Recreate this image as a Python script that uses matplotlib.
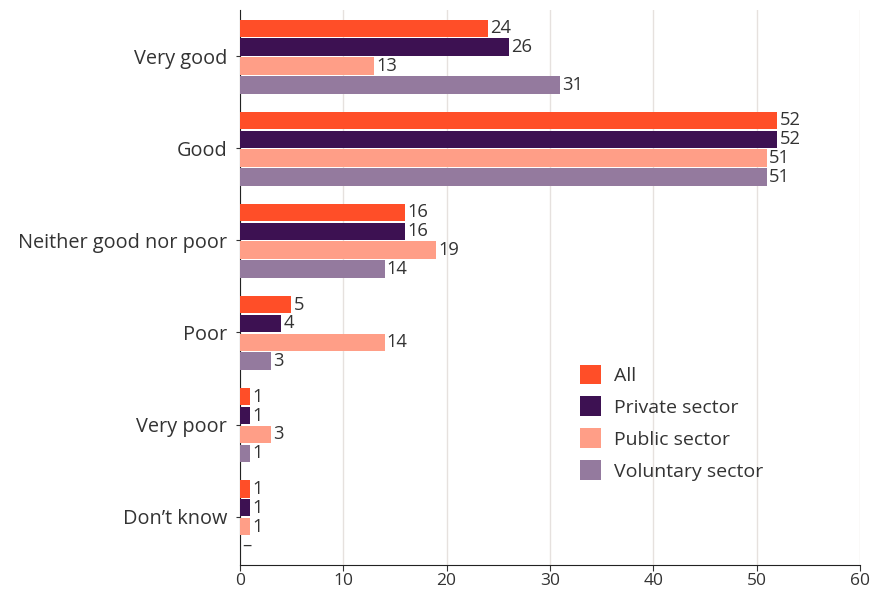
import numpy as np
import matplotlib.pyplot as plt

plt.rcParams['font.family'] = ['Open Sans', 'DejaVu Sans']

# Survey responses (%)
categories = ['Very good', 'Good', 'Neither good nor poor', 'Poor', 'Very poor', 'Don\u2019t know']
series = ['All', 'Private sector', 'Public sector', 'Voluntary sector']
all_vals = [24, 52, 16, 5, 1, 1]
private_vals = [26, 52, 16, 4, 1, 1]
public_vals = [13, 51, 19, 14, 3, 1]
voluntary_vals = [31, 51, 14, 3, 1, None]

colors = ['#ff4e28', '#3d1152', '#ff9e87', '#947a9e']
text_col = '#333333'

fig = plt.figure(figsize=(8.75, 5.93), dpi=100)
ax = fig.add_axes([0.274, 0.048, 0.709, 0.935])

y = np.arange(len(categories))
step = 0.205
height = 0.19
for k, (name, vals, c) in enumerate(zip(series, [all_vals, private_vals, public_vals, voluntary_vals], colors)):
    pos = y - 0.405 + step * (k + 0.5)
    widths = [v if v is not None else 0 for v in vals]
    ax.barh(pos, widths, height=height, color=c, label=name, zorder=3)
    for p, v in zip(pos, vals):
        txt = str(v) if v is not None else '\u2013'
        ax.text((v or 0) + 0.2, p, txt, va='center', ha='left',
                fontsize=13.2, color=text_col, zorder=4)

ax.set_ylim(5.52, -0.5)
ax.set_xlim(0, 60)
ax.set_yticks(y)
ax.set_yticklabels(categories, fontsize=14.3, color=text_col)
ax.set_xticks(range(0, 61, 10))
ax.tick_params(axis='x', labelsize=12.5, colors=text_col, length=4, pad=2)
ax.tick_params(axis='y', length=3, colors=text_col, pad=6)

ax.grid(axis='x', color='#e6e1de', lw=1, zorder=0)
for s in ['top', 'right']:
    ax.spines[s].set_visible(False)
ax.spines['left'].set_color('#222222')
ax.spines['bottom'].set_color('#222222')

ax.legend(loc='lower left', bbox_to_anchor=(0.52, 0.12), frameon=False,
          fontsize=14, handlelength=1.1, handleheight=1.15, labelspacing=0.6,
          handletextpad=0.65, labelcolor=text_col)

fig.savefig('out.png', dpi=100)
